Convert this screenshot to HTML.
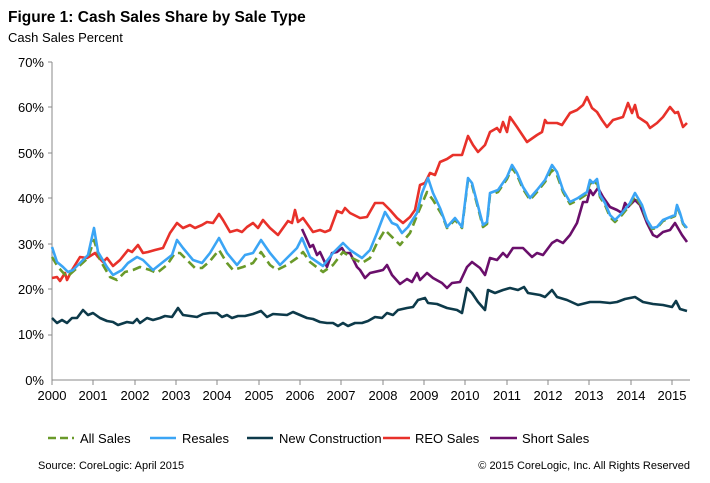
<!DOCTYPE html>
<html><head><meta charset="utf-8"><style>
body{margin:0;background:#fff;}
svg{display:block;font-family:"Liberation Sans",Arial,sans-serif;}
</style></head><body>
<svg width="710" height="483" viewBox="0 0 710 483">
<text x="8" y="22" font-size="15.5" font-weight="bold" fill="#000">Figure 1: Cash Sales Share by Sale Type</text>
<text x="8" y="42" font-size="13" fill="#000">Cash Sales Percent</text>
<g font-size="13" fill="#000" text-anchor="end">
<text x="44" y="67">70%</text><text x="44" y="112">60%</text><text x="44" y="158">50%</text><text x="44" y="203">40%</text><text x="44" y="249">30%</text><text x="44" y="294">20%</text><text x="44" y="339">10%</text><text x="44" y="385">0%</text>
</g>
<g stroke="#888" stroke-width="1">
<line x1="52" y1="62" x2="52" y2="380"/><line x1="52" y1="380" x2="690" y2="380"/>
<line x1="48" y1="62" x2="52" y2="62"/><line x1="48" y1="107" x2="52" y2="107"/><line x1="48" y1="153" x2="52" y2="153"/><line x1="48" y1="198" x2="52" y2="198"/><line x1="48" y1="244" x2="52" y2="244"/><line x1="48" y1="289" x2="52" y2="289"/><line x1="48" y1="335" x2="52" y2="335"/>
<line x1="52" y1="380" x2="52" y2="385"/><line x1="93" y1="380" x2="93" y2="385"/><line x1="135" y1="380" x2="135" y2="385"/><line x1="176" y1="380" x2="176" y2="385"/><line x1="217" y1="380" x2="217" y2="385"/><line x1="259" y1="380" x2="259" y2="385"/><line x1="300" y1="380" x2="300" y2="385"/><line x1="341" y1="380" x2="341" y2="385"/><line x1="383" y1="380" x2="383" y2="385"/><line x1="424" y1="380" x2="424" y2="385"/><line x1="465" y1="380" x2="465" y2="385"/><line x1="507" y1="380" x2="507" y2="385"/><line x1="548" y1="380" x2="548" y2="385"/><line x1="589" y1="380" x2="589" y2="385"/><line x1="631" y1="380" x2="631" y2="385"/><line x1="672" y1="380" x2="672" y2="385"/>
</g>
<g font-size="13" fill="#000" text-anchor="middle">
<text x="52" y="400">2000</text><text x="93" y="400">2001</text><text x="135" y="400">2002</text><text x="176" y="400">2003</text><text x="217" y="400">2004</text><text x="259" y="400">2005</text><text x="300" y="400">2006</text><text x="341" y="400">2007</text><text x="383" y="400">2008</text><text x="424" y="400">2009</text><text x="465" y="400">2010</text><text x="507" y="400">2011</text><text x="548" y="400">2012</text><text x="589" y="400">2013</text><text x="631" y="400">2014</text><text x="672" y="400">2015</text>
</g>
<g fill="none" stroke-width="2.6" stroke-linejoin="round">
<polyline stroke="#0d3a4a" points="52,318 57,323 62,320 67,323 72,318 77,318 83,310 88,315 93,313 100,318 107,321 113,322 118,325 127,322 133,323 137,319 140,323 147,318 153,320 160,318 165,316 172,317 178,308 183,315 190,316 197,317 203,314 210,313 217,313 222,317 227,315 232,318 238,316 245,316 253,314 261,311 267,317 273,314 287,315 293,312 300,315 307,318 313,319 320,322 327,323 333,323 338,326 343,323 348,326 355,323 362,323 368,321 375,317 382,318 387,313 393,315 398,310 407,308 413,307 418,300 425,298 428,303 437,304 447,308 457,310 462,313 467,288 472,293 478,302 485,310 488,290 495,293 503,290 510,288 518,290 524,287 528,293 540,295 545,297 552,290 557,297 567,300 578,305 590,302 600,302 610,303 617,302 625,299 635,297 643,302 653,304 663,305 672,307 676,301 680,309 687,311"/>
<polyline stroke="#e8312a" points="52,278 57,277 60,281 65,273 67,280 72,270 80,257 87,258 95,253 98,257 103,262 107,258 113,266 120,260 128,250 132,252 138,245 143,253 148,252 155,250 163,248 170,233 177,223 183,228 190,225 195,228 202,225 207,222 213,223 219,214 223,220 230,232 237,230 242,232 247,227 253,223 258,228 263,220 270,228 278,235 283,228 288,221 292,223 295,210 298,222 303,218 313,232 320,230 325,232 330,230 337,211 342,213 345,208 350,213 360,218 367,217 375,203 383,203 390,210 397,218 403,223 410,217 415,210 420,185 425,183 430,173 435,175 440,162 447,159 453,155 462,155 468,136 473,145 478,152 485,145 490,132 497,128 500,132 503,122 507,132 510,117 517,127 527,142 537,135 542,132 545,120 547,123 557,123 562,125 570,113 577,110 583,105 587,97 592,108 597,112 602,120 607,127 613,120 623,117 628,103 632,113 635,105 638,117 647,123 650,128 657,123 663,117 670,107 675,113 678,112 683,127 687,123"/>
<polyline stroke="#6a0f6b" points="302,229 307,240 310,247 313,245 317,255 320,252 327,267 332,253 337,252 342,248 345,253 350,253 357,267 360,270 365,278 370,273 383,270 387,265 392,275 400,284 407,279 412,282 417,273 420,280 427,273 433,278 442,283 447,288 452,283 460,282 467,267 472,262 480,268 485,275 490,258 497,260 503,253 507,257 513,248 523,248 532,257 537,253 543,255 552,243 557,240 563,243 570,235 577,223 583,202 587,202 590,190 593,195 598,188 603,197 610,207 617,210 622,213 625,203 628,207 635,200 640,205 647,223 653,235 657,237 663,232 670,230 675,223 682,235 687,242"/>
<polyline stroke="#6a9a2a" stroke-dasharray="9,5" points="52,257 58,267 67,277 77,268 88,258 94,240 100,260 110,277 117,280 125,272 133,270 140,267 150,270 157,273 167,265 175,253 180,253 187,260 195,268 202,268 210,261 219,250 227,263 233,270 243,267 253,263 261,252 270,265 277,270 287,265 297,258 303,252 310,262 323,272 333,265 343,252 352,258 362,263 370,258 377,243 385,230 400,245 410,233 418,213 427,192 433,200 442,215 447,228 455,220 462,228 468,180 472,185 483,227 487,224 490,195 498,192 507,179 512,168 517,175 523,189 530,200 537,192 545,182 552,170 557,175 563,192 570,204 578,200 587,194 590,183 593,186 597,182 600,197 605,205 610,217 615,222 622,215 630,205 635,196 642,207 647,221 652,229 657,228 663,221 675,216 677,207 680,214 683,224 687,229"/>
<polyline stroke="#3ba5f5" points="52,247 57,262 63,267 68,272 73,270 80,263 88,255 94,228 98,252 107,267 113,275 122,270 128,263 137,257 143,260 153,270 163,262 172,255 177,240 183,248 193,260 202,263 210,253 219,238 227,253 237,265 245,255 253,253 261,240 270,253 280,265 290,255 297,248 302,238 310,257 323,266 333,253 343,243 350,250 362,258 370,250 377,233 385,212 392,223 397,225 402,233 408,227 417,213 422,193 428,178 433,193 440,208 447,227 455,218 462,227 468,178 472,183 483,225 487,222 490,193 498,190 507,177 512,165 517,173 523,187 530,198 537,190 545,180 552,165 557,172 563,190 570,202 578,198 587,192 590,180 593,183 597,179 600,195 605,203 610,215 615,220 622,213 630,203 635,193 642,205 647,220 652,228 657,227 663,220 675,215 677,205 680,213 683,223 687,228"/>
</g>
<g stroke-width="2.6">
<line x1="48" y1="438" x2="74" y2="438" stroke="#6a9a2a" stroke-dasharray="8,4"/>
<line x1="150" y1="438" x2="176" y2="438" stroke="#3ba5f5"/>
<line x1="247" y1="438" x2="273" y2="438" stroke="#0d3a4a"/>
<line x1="383" y1="438" x2="410" y2="438" stroke="#e8312a"/>
<line x1="490" y1="438" x2="517" y2="438" stroke="#6a0f6b"/>
</g>
<g font-size="13" fill="#000">
<text x="80" y="443">All Sales</text><text x="182" y="443">Resales</text><text x="279" y="443">New Construction</text><text x="415" y="443">REO Sales</text><text x="522" y="443">Short Sales</text>
</g>
<text x="38" y="469" font-size="11" fill="#000">Source: CoreLogic: April 2015</text>
<text x="690" y="469" font-size="11" fill="#000" text-anchor="end">© 2015 CoreLogic, Inc. All Rights Reserved</text>
</svg>
</body></html>
